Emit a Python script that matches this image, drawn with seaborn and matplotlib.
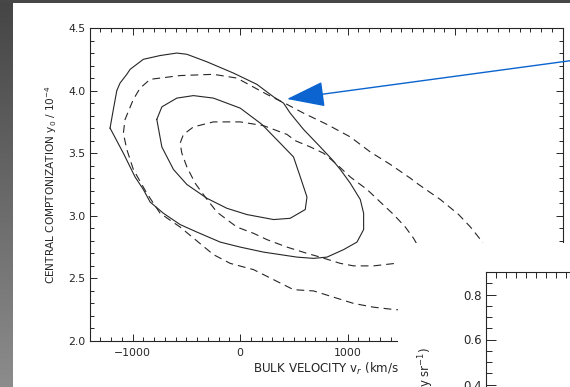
import numpy as np
import pandas as pd
import matplotlib
matplotlib.use("Agg")
import matplotlib.pyplot as plt
import seaborn as sns
from matplotlib.patches import Rectangle
from matplotlib.colors import LinearSegmentedColormap
from matplotlib.ticker import MultipleLocator, FuncFormatter

# Likelihood contours: bulk velocity v_r (km/s) vs central Comptonization y0 (1e-4)
outer_solid_v = [-1209, -1178, -1146, -1116, -1053, -1022, -899, -743, -588, -494,
                 -308, -61, 157, 312, 405, 467, 591, 747, 856, 933,
                 1026, 1119, 1150, 1150, 1088, 964, 809, 684, 530, 219,
                 2, -184, -401, -557, -712, -836, -899, -976, -1085, -1202]
outer_solid_y = [3.70, 3.85, 4.00, 4.06, 4.13, 4.17, 4.25, 4.28, 4.30, 4.29,
                 4.23, 4.14, 4.05, 3.95, 3.90, 3.82, 3.69, 3.55, 3.45, 3.37,
                 3.26, 3.13, 3.02, 2.89, 2.79, 2.73, 2.67, 2.66, 2.67, 2.71,
                 2.75, 2.79, 2.87, 2.93, 3.02, 3.11, 3.21, 3.31, 3.50, 3.69]

inner_solid_v = [-774, -727, -588, -433, -247, 2, 204, 374, 498, 561,
                 623, 607, 467, 312, 64, -122, -308, -494, -619, -727]
inner_solid_y = [3.77, 3.87, 3.94, 3.96, 3.94, 3.86, 3.73, 3.58, 3.47, 3.31,
                 3.15, 3.05, 2.98, 2.97, 3.01, 3.06, 3.14, 3.25, 3.37, 3.55]

outer_dashed_v = [2292, 2237, 2144, 2034, 1864, 1662, 1585, 1399, 1212, 1026,
                  809, 591, 437, 250, -29, -247, -557, -836, -929, -992,
                  -1069, -1085, -1053, -992, -867, -743, -557, -247, -91, 126,
                  312, 498, 684, 871, 1057, 1243, 1445, 1520]
outer_dashed_y = [2.73, 2.81, 2.91, 3.01, 3.13, 3.25, 3.30, 3.41, 3.51, 3.63,
                  3.73, 3.82, 3.89, 3.97, 4.10, 4.13, 4.12, 4.09, 4.02, 3.93,
                  3.77, 3.66, 3.53, 3.37, 3.18, 3.02, 2.91, 2.69, 2.62, 2.57,
                  2.49, 2.41, 2.40, 2.35, 2.30, 2.27, 2.25, 2.25]

inner_dashed_v = [1641, 1615, 1538, 1429, 1305, 1182, 1026, 902, 777, 654,
                  514, 437, 219, 2, -247, -433, -526, -557, -541, -494,
                  -417, -324, -215, -122, -29, 126, 250, 437, 623, 747,
                  933, 1057, 1243, 1445, 1520]
inner_dashed_y = [2.78, 2.82, 2.91, 3.01, 3.11, 3.21, 3.31, 3.41, 3.50, 3.55,
                  3.60, 3.65, 3.72, 3.75, 3.75, 3.71, 3.65, 3.58, 3.50, 3.39,
                  3.26, 3.15, 3.03, 2.97, 2.91, 2.86, 2.81, 2.75, 2.70, 2.67,
                  2.62, 2.60, 2.60, 2.62, 2.63]

x_ticks_major, x_ticks_minor = 1000, 100
y_ticks_major, y_ticks_minor = 0.5, 0.1

sns.set_style("ticks")
plt.rcParams["font.family"] = ["DejaVu Sans"]
plt.rcParams["mathtext.fontset"] = "dejavusans"

W, H = 570, 387
fig = plt.figure(figsize=(W / 100, H / 100), dpi=100)
fig.patch.set_facecolor("white")


def px_rect(left, top, right, bottom):
    """Pixel box (origin top-left) -> figure-fraction rectangle."""
    return [left / W, 1 - bottom / H, (right - left) / W, (bottom - top) / H]


# slide frame: dark top strip and shaded left strip
bg = fig.add_axes([0, 0, 1, 1], zorder=0)
bg.axis("off")
shade = LinearSegmentedColormap.from_list("frame", ["#454545", "#8c8c8c"])
bg.imshow(np.linspace(0, 1, 256)[:, None], extent=(0, 13, H, 0), cmap=shade,
          aspect="auto")
bg.add_patch(Rectangle((0, 0), W, 3, color="#474747", lw=0))
bg.set_xlim(0, W)
bg.set_ylim(H, 0)

ink = "#262626"

# main contour panel
ax = fig.add_axes(px_rect(89.5, 28, 562.5, 341), zorder=1)
curves = [
    (outer_solid_v, outer_solid_y, True, "-"),
    (inner_solid_v, inner_solid_y, True, "-"),
    (outer_dashed_v, outer_dashed_y, False, (0, (7, 4.5))),
    (inner_dashed_v, inner_dashed_y, False, (0, (7, 4.5))),
]
for v, y, closed, ls in curves:
    v = list(v) + ([v[0]] if closed else [])
    y = list(y) + ([y[0]] if closed else [])
    df = pd.DataFrame({"v": v, "y0": y})
    sns.lineplot(data=df, x="v", y="y0", sort=False, estimator=None, ax=ax,
                 color=ink, lw=0.8, linestyle=ls)

ax.set_xlim(-1400, 3000)
ax.set_ylim(2.0, 4.5)
ax.xaxis.set_major_locator(MultipleLocator(x_ticks_major))
ax.xaxis.set_minor_locator(MultipleLocator(x_ticks_minor))
ax.yaxis.set_major_locator(MultipleLocator(y_ticks_major))
ax.yaxis.set_minor_locator(MultipleLocator(y_ticks_minor))
# the lower right part of this panel lies under the second panel
ax.xaxis.set_major_formatter(
    FuncFormatter(lambda val, pos: f"{val:.0f}".replace("-", "\u2212")
                  if val <= 1500 else ""))
ax.yaxis.set_major_formatter(FuncFormatter(lambda val, pos: f"{val:.1f}"))
ax.tick_params(which="both", direction="in", top=True, right=True,
               color=ink, width=0.7, labelsize=7.8, labelcolor=ink)
ax.tick_params(which="major", length=5)
ax.tick_params(which="minor", length=3)
ax.tick_params(axis="x", pad=5)
ax.tick_params(axis="y", pad=3.0)
for s in ax.spines.values():
    s.set_color(ink)
    s.set_linewidth(0.8)
ax.set_xlabel(r"BULK VELOCITY v$_r$ (km/s)", fontsize=8.6, color=ink)
ax.set_ylabel(r"CENTRAL COMPTONIZATION y$_0$ / 10$^{-4}$", fontsize=7.6,
              color=ink)
ax.xaxis.set_label_coords((328 - 89.5) / 473, -0.064)
ax.yaxis.set_label_coords((59.5 - 89.5) / 473, 0.5)

# overlay: white block over the lower right corner and the pointer arrow
ov = fig.add_axes([0, 0, 1, 1], zorder=10)
ov.axis("off")
ov.set_xlim(0, W)
ov.set_ylim(H, 0)
ov.add_patch(Rectangle((397.5, 243), W, H, color="white", lw=0))
ov.annotate("", xy=(287, 99), xytext=(580, 59.4), annotation_clip=False,
            arrowprops=dict(arrowstyle="-|>,head_length=2.4,head_width=0.8",
                            mutation_scale=10, color="#0b64cf", lw=1.0,
                            shrinkA=0, shrinkB=0))

# second panel, partly outside the frame
ax2 = fig.add_axes(px_rect(486, 272, 886, 474.5), zorder=20)
ax2.set_facecolor("white")
ax2.set_xlim(0, 40)
ax2.set_ylim(0, 0.9)
ax2.xaxis.set_major_locator(MultipleLocator(10))
ax2.xaxis.set_minor_locator(MultipleLocator(1))
ax2.yaxis.set_major_locator(MultipleLocator(0.2))
ax2.yaxis.set_minor_locator(MultipleLocator(0.05))
ax2.yaxis.set_major_formatter(
    FuncFormatter(lambda val, pos: f"{val:.1f}" if val >= 0.35 else ""))
ax2.tick_params(which="both", direction="in", top=True, right=True,
                color=ink, width=0.7, labelsize=8.5, labelcolor=ink,
                labelbottom=False)
ax2.tick_params(which="major", length=7)
ax2.tick_params(which="minor", length=4)
ax2.tick_params(axis="y", pad=3)
for s in ax2.spines.values():
    s.set_color(ink)
    s.set_linewidth(0.8)
fig.text(436 / W, 1 - 347 / H, r"(MJy sr$^{-1}$)", rotation=90, ha="right",
         va="top", fontsize=8.5, color=ink, zorder=30)

fig.savefig("out.png", dpi=100)
